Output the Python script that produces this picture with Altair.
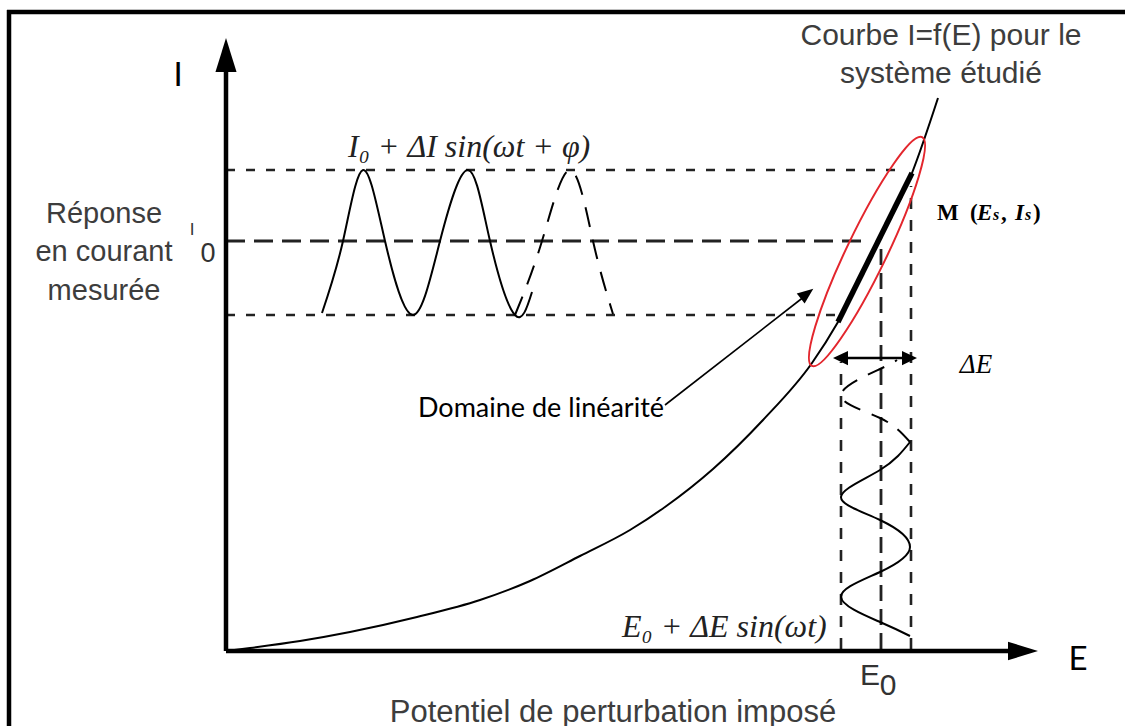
import altair as alt
import pandas as pd

# ---------------- data (diagram units: E to the right, I upward, origin where the axes meet)
# I = f(E) curve of the studied system
curve_E = [0, 24, 74, 124, 191, 254, 304, 354, 404, 439, 487, 537, 586, 612, 649, 686, 712]
curve_I = [0, 3, 10, 19, 34, 51, 70, 95, 121, 144, 182, 231, 288, 329, 403, 478, 553]
# linear domain (bold segment)
linear_E = [612, 686]
linear_I = [329, 478]
# current response I0 + dI sin(wt + phi): solid then dashed part
resp_E = [96, 117, 137, 159, 187, 214, 242, 264, 289, 306]
resp_I = [338, 410, 481, 410, 336, 410, 481, 410, 336, 359]
resp_dash_E = [289, 316, 344, 367, 387]
resp_dash_I = [336, 410, 481, 410, 337]
# potential perturbation E0 + dE sin(wt): solid then dashed part
pert_E = [684, 654, 615, 654, 684, 654, 615, 654, 684]
pert_I = [15, 29, 54, 79, 104, 131, 154, 181, 209]
pert_dash_E = [684, 654, 615, 654, 671]
pert_dash_I = [209, 233, 256, 282, 291]
# guide lines
hguide_short_I = [481, 336]
hguide_short_end = [679, 610]
hguide_long_I = [410]
hguide_long_end = [642]
vguide_short_E = [615, 685]
vguide_short_top = [289, 465]
vguide_long_E = [655]
vguide_long_top = [410]
# axes
yaxis_top = 585
xaxis_end = 790
yhead = (0, 596)
xhead = (797, 0)
# delta E double arrow
dE_line = (614, 684, 293)
dE_heads_E = [614.5, 683.5]
dE_heads_I = [293, 293]
# "Domaine de linearite" pointer
dom_line_E = [439, 579]
dom_line_I = [246, 355]
dom_head = (581, 357.4)
# ellipse around the linear domain
ellipse_center = (641, 399.5)
# frame
frame_top = (-219, 899, 639)
frame_left = (-217, -75, 641)
# white box behind the M label
mbox = (692, 824, 419, 468)

# labels
gray_labels = pd.DataFrame({
    "t": ["Réponse", "en courant", "mesurée", "Courbe I=f(E) pour le", "système étudié",
          "Potentiel de perturbation imposé"],
    "E": [-122, -122, -122, 715, 715, 387],
    "I": [428, 390, 351, 606, 568, -71],
    "s": [29, 29, 29, 30, 30, 31],
})
sub_labels = pd.DataFrame({
    "t": ["I", "0", "E", "0"],
    "E": [-34, -18, 644, 662],
    "I": [416, 389, -34, -44],
    "s": [17, 27, 30, 30],
})
axis_labels = pd.DataFrame({"t": ["I", "E"], "E": [-48, 852], "I": [565, -19]})
formula_labels = pd.DataFrame({
    "t": ["I₀ + ΔI sin(ωt + φ)", "E₀ + ΔE sin(ωt)"],
    "E": [122, 396],
    "I": [494, 14],
})
domaine_label = pd.DataFrame({"t": ["Domaine de linéarité"], "E": [192], "I": [234]})
dE_label = pd.DataFrame({"t": ["ΔE"], "E": [750], "I": [278]})
m_upright = pd.DataFrame({"t": ["M", "(", ",", ")"], "E": [711, 744, 775, 807], "I": [431] * 4})
m_italic = pd.DataFrame({"t": ["E", "I"], "E": [751, 789], "I": [431] * 2})
m_small = pd.DataFrame({"t": ["s", "s"], "E": [767, 799], "I": [431] * 2})

# ---------------- chart
W, H = 1125, 726
xs = alt.Scale(domain=[-226, 899], nice=False, zero=False)
ys = alt.Scale(domain=[-75, 651], nice=False, zero=False)
X = alt.X("E:Q", scale=xs, axis=None)
Y = alt.Y("I:Q", scale=ys, axis=None)

ARROW = "M0,-1 L0.62,1 L-0.62,1 Z"
SMALL_ARROW = "M0,-1 L0.95,1 L-0.95,1 Z"
ELLIPSE = ("M1,0 C1,0.087 0.5523,0.1575 0,0.1575 C-0.5523,0.1575 -1,0.087 -1,0 "
           "C-1,-0.087 -0.5523,-0.1575 0,-0.1575 C0.5523,-0.1575 1,-0.087 1,0 Z")
GRAY = "#3d3d3d"


def line(E, I, **mark):
    df = pd.DataFrame({"E": E, "I": I, "k": list(range(len(E)))})
    return alt.Chart(df).mark_line(**mark).encode(x=X, y=Y, order="k:Q")


def hrules(y, x1, x2, **mark):
    df = pd.DataFrame({"E": x1, "E2": x2, "I": y})
    return alt.Chart(df).mark_rule(**mark).encode(x=X, x2="E2:Q", y=Y)


def vrules(x, y1, y2, **mark):
    df = pd.DataFrame({"E": x, "I": y1, "I2": y2})
    return alt.Chart(df).mark_rule(**mark).encode(x=X, y=Y, y2="I2:Q")


def points(E, I, **mark):
    df = pd.DataFrame({"E": E, "I": I})
    return alt.Chart(df).mark_point(**mark).encode(x=X, y=Y)


def texts(df, **mark):
    enc = dict(x=X, y=Y, text="t:N")
    if "s" in df.columns:
        enc["size"] = alt.Size("s:Q", scale=None, legend=None)
    return alt.Chart(df).mark_text(baseline="alphabetic", **mark).encode(**enc)


layers = [
    # frame
    hrules([frame_top[2]], [frame_top[0]], [frame_top[1]], color="black", strokeWidth=4.5),
    vrules([frame_left[0]], [frame_left[1]], [frame_left[2]], color="black", strokeWidth=4.5),
    # guides
    hrules(hguide_short_I, [0, 0], hguide_short_end, color="#222", strokeWidth=2.6, strokeDash=[9, 11]),
    hrules(hguide_long_I, [0], hguide_long_end, color="#222", strokeWidth=2.8, strokeDash=[19, 9]),
    vrules(vguide_short_E, [2, 2], vguide_short_top, color="#222", strokeWidth=2.6, strokeDash=[11, 11]),
    vrules(vguide_long_E, [2], vguide_long_top, color="#222", strokeWidth=2.8, strokeDash=[16, 8]),
    # sinusoids
    line(resp_E, resp_I, color="black", strokeWidth=2, interpolate="natural"),
    line(resp_dash_E, resp_dash_I, color="black", strokeWidth=2, interpolate="natural", strokeDash=[20, 13]),
    line(pert_E, pert_I, color="black", strokeWidth=2, interpolate="natural"),
    line(pert_dash_E, pert_dash_I, color="black", strokeWidth=2, interpolate="natural", strokeDash=[18, 12]),
    # I = f(E)
    line(curve_E, curve_I, color="black", strokeWidth=2, interpolate="monotone"),
    line(linear_E, linear_I, color="black", strokeWidth=5.5),
    # axes
    vrules([0], [0], [yaxis_top], color="black", strokeWidth=4.5),
    hrules([0], [0], [xaxis_end], color="black", strokeWidth=4.5),
    points([yhead[0]], [yhead[1]], shape=ARROW, size=1156, filled=True, color="black",
           opacity=1, strokeWidth=0),
    points([xhead[0]], [xhead[1]], shape=ARROW, size=900, filled=True, color="black",
           opacity=1, strokeWidth=0, angle=90),
    # ellipse
    points([ellipse_center[0]], [ellipse_center[1]], shape=ELLIPSE, size=64516, filled=False,
           color="#e3262d", opacity=1, strokeWidth=2, angle=295.7),
    # white box behind M label
    alt.Chart(pd.DataFrame({"E": [mbox[0]], "E2": [mbox[1]], "I": [mbox[2]], "I2": [mbox[3]]}))
    .mark_rect(color="white").encode(x=X, x2="E2:Q", y=Y, y2="I2:Q"),
    # delta E double arrow
    hrules([dE_line[2]], [dE_line[0]], [dE_line[1]], color="black", strokeWidth=2.5),
    points([dE_heads_E[0]], [dE_heads_I[0]], shape=SMALL_ARROW, size=225, filled=True,
           color="black", opacity=1, strokeWidth=0, angle=270),
    points([dE_heads_E[1]], [dE_heads_I[1]], shape=SMALL_ARROW, size=225, filled=True,
           color="black", opacity=1, strokeWidth=0, angle=90),
    # pointer to linear domain
    line(dom_line_E, dom_line_I, color="black", strokeWidth=1.6),
    points([dom_head[0]], [dom_head[1]], shape="M0,-1 L0.8,1 L-0.8,1 Z", size=256, filled=True,
           color="black", opacity=1, strokeWidth=0, angle=52),
    # texts
    texts(gray_labels, align="center", font="Liberation Sans", color=GRAY),
    texts(sub_labels, align="center", font="Liberation Sans", color="#333"),
    texts(axis_labels, align="center", font="Lato", fontSize=33, color="black"),
    texts(formula_labels, align="left", font="Liberation Serif", fontStyle="italic",
          fontSize=32, color="#222"),
    texts(domaine_label, align="left", font="Lato", fontSize=27, color="black"),
    texts(dE_label, align="center", font="Liberation Serif", fontStyle="italic",
          fontSize=27, color="black"),
    texts(m_upright, align="left", font="Liberation Serif", fontWeight="bold",
          fontSize=23, color="black"),
    texts(m_italic, align="left", font="Liberation Serif", fontWeight="bold",
          fontStyle="italic", fontSize=23, color="black"),
    texts(m_small, align="left", font="Liberation Serif", fontWeight="bold",
          fontStyle="italic", fontSize=16, color="black"),
]

chart = (
    alt.layer(*layers)
    .properties(width=W, height=H, autosize=alt.AutoSizeParams(type="none"), padding=0,
                background="white")
    .configure_view(strokeWidth=0)
)

chart.save("out.html", embed_options={"renderer": "svg", "actions": False})
